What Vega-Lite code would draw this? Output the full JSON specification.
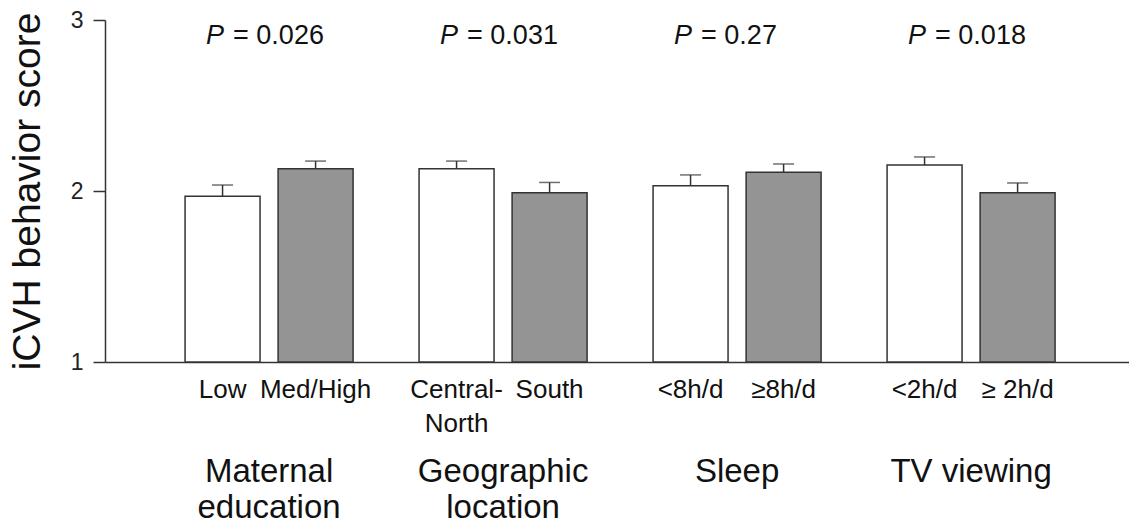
{
  "$schema": "https://vega.github.io/schema/vega-lite/v6.json",
  "width": 1024,
  "height": 342,
  "autosize": {"type": "none"},
  "padding": {"left": 105, "top": 20, "right": 0, "bottom": 162},
  "background": "white",
  "config": {
    "view": {"stroke": null},
    "font": "Liberation Sans",
    "axis": {"grid": false},
    "axisY": {"tickSize": 12, "labelPadding": 10, "labelFontSize": 23, "labelColor": "#222", "domainColor": "#333", "tickColor": "#333", "domainWidth": 1.5, "tickWidth": 1.5, "titleFontSize": 39, "titleFontWeight": "normal", "titleColor": "#111", "titlePadding": 23}
  },
  "datasets": {
    "bars": [
      {"group": "Maternal education", "level": "1", "label": "Low", "mean": 1.97, "upper": 2.035},
      {"group": "Maternal education", "level": "2", "label": "Med/High", "mean": 2.13, "upper": 2.175},
      {"group": "Geographic location", "level": "1", "label": "Central-\nNorth", "mean": 2.13, "upper": 2.175},
      {"group": "Geographic location", "level": "2", "label": "South", "mean": 1.99, "upper": 2.05},
      {"group": "Sleep", "level": "1", "label": "<8h/d", "mean": 2.03, "upper": 2.094},
      {"group": "Sleep", "level": "2", "label": "≥8h/d", "mean": 2.11, "upper": 2.158},
      {"group": "TV viewing", "level": "1", "label": "<2h/d", "mean": 2.152, "upper": 2.199},
      {"group": "TV viewing", "level": "2", "label": "≥ 2h/d", "mean": 1.99, "upper": 2.047}
    ],
    "groups": [
      {"group": "Maternal education", "name": "Maternal\neducation", "p": "= 0.026"},
      {"group": "Geographic location", "name": "Geographic\nlocation", "p": "= 0.031"},
      {"group": "Sleep", "name": "Sleep", "p": "= 0.27"},
      {"group": "TV viewing", "name": "TV viewing", "p": "= 0.018"}
    ]
  },
  "encoding": {
    "x": {
      "field": "group",
      "type": "nominal",
      "scale": {"domain": ["Maternal education", "Geographic location", "Sleep", "TV viewing"], "paddingInner": 0.282, "paddingOuter": 0.329, "align": 0.52},
      "axis": {"labels": false, "ticks": false, "title": null, "domain": true, "domainColor": "#333", "domainWidth": 1.5}
    }
  },
  "layer": [
    {
      "data": {"name": "bars"},
      "mark": {"type": "bar", "stroke": "#333", "strokeWidth": 1.5},
      "encoding": {
        "xOffset": {"field": "level", "type": "nominal", "scale": {"paddingInner": 0.194, "paddingOuter": 0}},
        "y": {
          "field": "mean",
          "type": "quantitative",
          "scale": {"domain": [1, 3], "nice": false, "zero": false},
          "axis": {"values": [1, 2, 3], "labelExpr": "'' + datum.value", "title": "iCVH behavior score"}
        },
        "y2": {"datum": 1},
        "fill": {"field": "level", "type": "nominal", "scale": {"domain": ["1", "2"], "range": ["#ffffff", "#949494"]}, "legend": null}
      }
    },
    {
      "data": {"name": "bars"},
      "mark": {"type": "rule", "color": "#333", "strokeWidth": 1.5},
      "encoding": {
        "xOffset": {"field": "level", "type": "nominal"},
        "y": {"field": "mean", "type": "quantitative"},
        "y2": {"field": "upper"}
      }
    },
    {
      "data": {"name": "bars"},
      "mark": {"type": "tick", "orient": "horizontal", "size": 21, "thickness": 1.5, "color": "#333"},
      "encoding": {
        "xOffset": {"field": "level", "type": "nominal"},
        "y": {"field": "upper", "type": "quantitative"}
      }
    },
    {
      "data": {"name": "bars"},
      "mark": {"type": "text", "fontSize": 26, "lineBreak": "\n", "lineHeight": 34, "baseline": "alphabetic", "align": "center", "dy": 36, "color": "#111"},
      "encoding": {
        "xOffset": {"field": "level", "type": "nominal"},
        "y": {"datum": 1},
        "text": {"field": "label"}
      }
    },
    {
      "data": {"name": "groups"},
      "mark": {"type": "text", "fontSize": 33, "lineBreak": "\n", "lineHeight": 36, "baseline": "alphabetic", "align": "center", "dy": 120, "color": "#111"},
      "encoding": {
        "y": {"datum": 1},
        "text": {"field": "name"}
      }
    },
    {
      "data": {"name": "groups"},
      "mark": {"type": "text", "fontSize": 27, "fontStyle": "italic", "baseline": "alphabetic", "align": "left", "dx": -63, "color": "#111"},
      "encoding": {
        "y": {"datum": 2.86},
        "text": {"value": "P"}
      }
    },
    {
      "data": {"name": "groups"},
      "mark": {"type": "text", "fontSize": 27, "baseline": "alphabetic", "align": "left", "dx": -36, "color": "#111"},
      "encoding": {
        "y": {"datum": 2.86},
        "text": {"field": "p"}
      }
    }
  ]
}
